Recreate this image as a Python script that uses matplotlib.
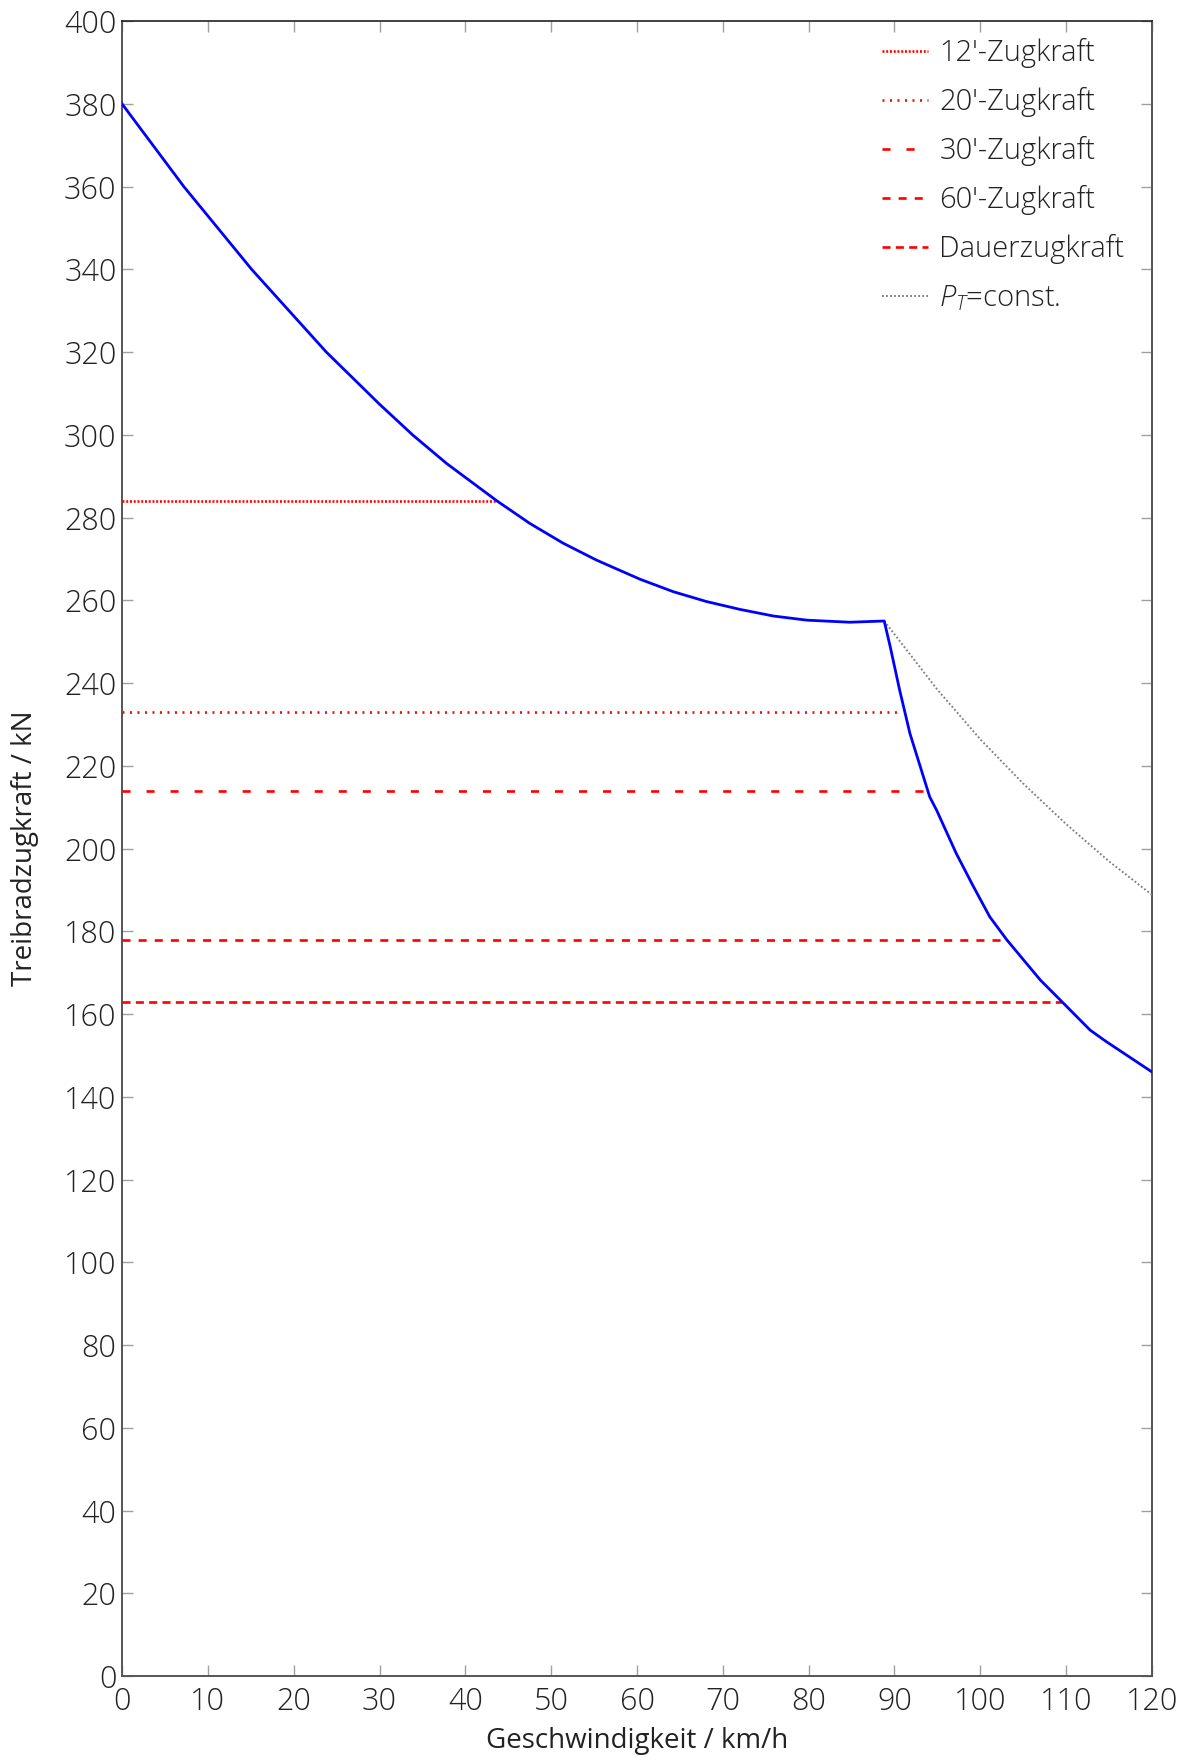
import matplotlib
matplotlib.use("Agg")
import matplotlib.pyplot as plt

plt.rcParams['font.family'] = ['Open Sans', 'DejaVu Sans']
plt.rcParams['font.weight'] = 'light'
plt.rcParams['mathtext.fontset'] = 'custom'
plt.rcParams['mathtext.it'] = 'Open Sans:italic:light'
plt.rcParams['mathtext.rm'] = 'Open Sans:light'
plt.rcParams['lines.scale_dashes'] = False

# Traction force curve (speed in km/h, force in kN)
speed_kmh = [0, 7.2, 15.1, 23.8, 30.0, 33.9, 37.8, 43.7, 47.5, 51.4, 55.3, 60.35,
             64.2, 68.1, 72.0, 75.9, 79.8, 84.8, 88.8,
             89.5, 90.6, 91.8, 94.1, 94.9, 97.2, 99.2, 101.1, 103.1, 107.0,
             109.5, 112.8, 114.7, 120]
force_kn = [380, 360, 340, 320, 307.4, 299.9, 293.1, 284.0, 278.6, 273.8, 269.7,
            265.1, 262.1, 259.7, 257.8, 256.2, 255.2, 254.7, 255.0,
            248.8, 238.3, 227.8, 212.5, 209.3, 198.8, 190.8, 183.5, 177.9, 168.2,
            163.0, 156.1, 153.3, 146.0]

# Constant-power reference line
pt_speed = [88.8, 95, 100, 105, 110, 115, 120]
pt_force = [255, 238.4, 226.4, 215.7, 205.9, 196.9, 188.8]

# Time-limited tractive efforts: label, force level, end speed
limit_labels = ["12\u2032-Zugkraft", "20\u2032-Zugkraft", "30\u2032-Zugkraft",
                "60\u2032-Zugkraft", "Dauerzugkraft"]
limit_force = [284, 233, 214, 178, 163]
limit_end = [43.7, 90.3, 94.7, 103.1, 109.5]
limit_styles = [(0, (1.4, 1.3)), (0, (1.4, 4.0)), (0, (5.8, 11.5)),
                (0, (5.8, 5.8)), (0, (5.8, 3.8))]

x_ticks = list(range(0, 121, 10))
y_ticks = list(range(0, 401, 20))

fig = plt.figure(figsize=(11.87, 17.57), dpi=100)
ax = fig.add_axes([0.1028, 0.0461, 0.9705 - 0.1028, 0.988 - 0.0461])

ax.plot(speed_kmh, force_kn, color='#0000ff', lw=2.0, zorder=4)
handles = []
for lab, f, e, ls in zip(limit_labels, limit_force, limit_end, limit_styles):
    h, = ax.plot([0, e], [f, f], color='#ff0000', lw=1.9, linestyle=ls, label=lab, zorder=3)
    handles.append(h)
h, = ax.plot(pt_speed, pt_force, color='#808080', lw=1.4, linestyle=(0, (1.3, 1.6)),
             label=r'$P_T$=const.', zorder=3)
handles.append(h)

ax.set_xlim(0, 120)
ax.set_ylim(0, 400)
ax.set_xticks(x_ticks)
ax.set_yticks(y_ticks)
ax.tick_params(direction='in', length=8, width=1.0, color='#a0a0a0',
               top=True, right=True, labelsize=22, labelcolor='#222222')
ax.tick_params(axis='x', pad=7)
ax.tick_params(axis='y', pad=4)
for side in ['left', 'bottom', 'right']:
    ax.spines[side].set_color('#555555')
    ax.spines[side].set_linewidth(1.4)
ax.spines['top'].set_color('#222222')
ax.spines['top'].set_linewidth(1.2)

ax.set_xlabel('Geschwindigkeit / km/h', fontsize=20, color='#222222', labelpad=7)
ax.set_ylabel('Treibradzugkraft / kN', fontsize=20, color='#222222', labelpad=18)

leg = ax.legend(handles=handles, loc='upper left', bbox_to_anchor=(0.738, 0.9897),
                frameon=False, fontsize=21, handlelength=1.58, handletextpad=0.38,
                labelspacing=0.65, borderaxespad=0, borderpad=0)
for t in leg.get_texts():
    t.set_color('#222222')

fig.savefig('out.png', dpi=100)
